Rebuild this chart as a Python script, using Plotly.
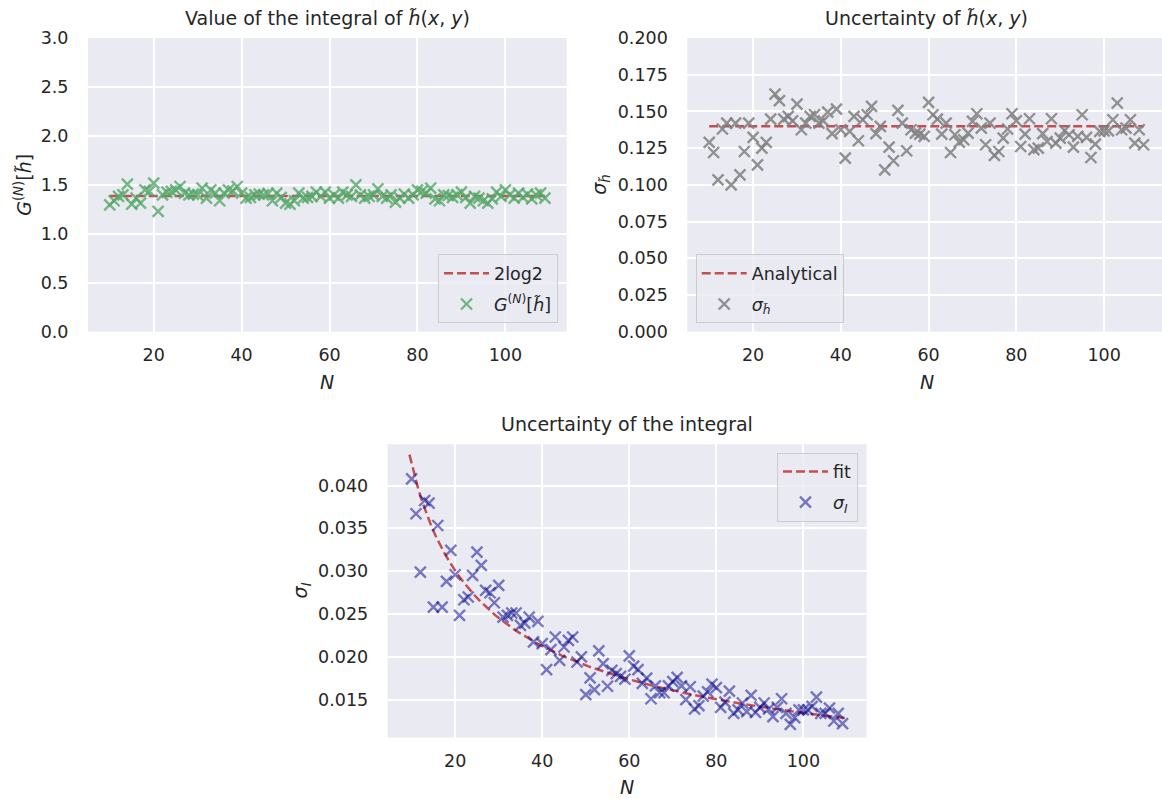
import plotly.graph_objects as go

# ---------------- data ----------------
N = list(range(10, 110))

G_values = [1.296, 1.337, 1.381, 1.398, 1.507, 1.303, 1.364, 1.313, 1.449, 1.432,
            1.517, 1.228, 1.398, 1.425, 1.432, 1.449, 1.483, 1.415, 1.398, 1.405,
            1.398, 1.466, 1.364, 1.449, 1.415, 1.337, 1.415, 1.449, 1.439, 1.483,
            1.415, 1.364, 1.371, 1.398, 1.405, 1.398, 1.411, 1.337, 1.415, 1.371,
            1.313, 1.303, 1.337, 1.415, 1.364, 1.371, 1.381, 1.425, 1.381, 1.425,
            1.364, 1.398, 1.364, 1.425, 1.398, 1.381, 1.500, 1.398, 1.364, 1.381,
            1.398, 1.459, 1.381, 1.364, 1.398, 1.323, 1.364, 1.405, 1.364, 1.398,
            1.449, 1.432, 1.415, 1.466, 1.357, 1.337, 1.398, 1.391, 1.371, 1.398,
            1.425, 1.371, 1.313, 1.381, 1.364, 1.337, 1.313, 1.357, 1.425, 1.381,
            1.449, 1.398, 1.364, 1.415, 1.371, 1.405, 1.357, 1.398, 1.415, 1.364]

sigma_h = [0.1289, 0.1220, 0.1034, 0.1380, 0.1420, 0.1000, 0.1420, 0.1068, 0.1227, 0.1420,
           0.1323, 0.1136, 0.1250, 0.1289, 0.1448, 0.1618, 0.1573, 0.1448, 0.1466, 0.1436,
           0.1550, 0.1375, 0.1420, 0.1466, 0.1477, 0.1420, 0.1436, 0.1495, 0.1348, 0.1516,
           0.1375, 0.1182, 0.1364, 0.1466, 0.1300, 0.1443, 0.1477, 0.1534, 0.1348, 0.1398,
           0.1102, 0.1257, 0.1164, 0.1507, 0.1420, 0.1232, 0.1375, 0.1352, 0.1345, 0.1330,
           0.1561, 0.1477, 0.1448, 0.1345, 0.1420, 0.1220, 0.1341, 0.1291, 0.1307, 0.1352,
           0.1432, 0.1484, 0.1386, 0.1273, 0.1420, 0.1200, 0.1227, 0.1318, 0.1380, 0.1484,
           0.1436, 0.1261, 0.1345, 0.1450, 0.1239, 0.1250, 0.1348, 0.1295, 0.1450, 0.1284,
           0.1318, 0.1370, 0.1341, 0.1257, 0.1330, 0.1477, 0.1323, 0.1186, 0.1277, 0.1364,
           0.1368, 0.1368, 0.1443, 0.1557, 0.1375, 0.1386, 0.1443, 0.1284, 0.1375, 0.1273]

sigma_I = [0.04078, 0.03670, 0.02989, 0.03825, 0.03794, 0.02581, 0.03533, 0.02581, 0.02880, 0.03242,
           0.02958, 0.02484, 0.02666, 0.02698, 0.02950, 0.03222, 0.03067, 0.02775, 0.02748, 0.02631,
           0.02834, 0.02464, 0.02484, 0.02511, 0.02511, 0.02367, 0.02394, 0.02464, 0.02173, 0.02414,
           0.02153, 0.01850, 0.02083, 0.02231, 0.01959, 0.02114, 0.02192, 0.02231, 0.01939, 0.01998,
           0.01558, 0.01753, 0.01617, 0.02068, 0.01920, 0.01656, 0.01842, 0.01803, 0.01770, 0.01740,
           0.02010, 0.01890, 0.01850, 0.01690, 0.01750, 0.01510, 0.01660, 0.01580, 0.01580, 0.01660,
           0.01710, 0.01760, 0.01660, 0.01500, 0.01650, 0.01390, 0.01430, 0.01540, 0.01590, 0.01680,
           0.01640, 0.01410, 0.01470, 0.01600, 0.01340, 0.01380, 0.01460, 0.01360, 0.01550, 0.01350,
           0.01410, 0.01460, 0.01390, 0.01300, 0.01410, 0.01510, 0.01340, 0.01210, 0.01290, 0.01380,
           0.01380, 0.01380, 0.01420, 0.01530, 0.01340, 0.01340, 0.01400, 0.01250, 0.01340, 0.01220]

two_log2 = 1.3863          # reference value 2 log 2
analytical_sigma = 0.1398  # analytical uncertainty
fit_amplitude = 0.1344     # fit: sigma_I = a / sqrt(N)
fit_N = [9.5 + k for k in range(101)]
fit_values = [fit_amplitude / (n ** 0.5) for n in fit_N]

# ---------------- style ----------------
W, H = 1162, 799
Y_OFF, Y_SCALE = 9.0, 0.976   # empirical vertical placement of the page in the photo
BG = "#EAEAF2"
TXT = "#262626"
FONT = "DejaVu Sans"
RED = "#C44E52"
TICK_FS = 17.5
LAB_FS = 19


def px_x(p):
    return p / W


def px_y(p):
    return 1 - ((p - Y_OFF) / Y_SCALE) / H


fig = go.Figure()

line_style = dict(color=RED, width=2.5, dash="9px,4px")


def mk(col):
    return dict(symbol="x-thin", size=11, line=dict(width=2.4, color=col))


# top-left
fig.add_trace(go.Scatter(x=N, y=[two_log2] * len(N), mode="lines", line=line_style,
                         name="2log2", xaxis="x", yaxis="y", legend="legend",
                         legendgroup="a1"))
fig.add_trace(go.Scatter(x=N, y=G_values, mode="markers", marker=mk("rgba(85,168,104,0.8)"),
                         name="<i>G</i><sup>(<i>N</i>)</sup>[<i>h̃</i>]", xaxis="x", yaxis="y",
                         legend="legend", legendgroup="a2"))
# top-right
fig.add_trace(go.Scatter(x=N, y=[analytical_sigma] * len(N), mode="lines", line=line_style,
                         name="Analytical", xaxis="x2", yaxis="y2", legend="legend2",
                         legendgroup="b1"))
fig.add_trace(go.Scatter(x=N, y=sigma_h, mode="markers", marker=mk("rgba(128,128,128,0.85)"),
                         name="<i>σ</i><sub><i>h̃</i></sub>", xaxis="x2", yaxis="y2",
                         legend="legend2", legendgroup="b2"))
# bottom
fig.add_trace(go.Scatter(x=fit_N, y=fit_values, mode="lines", line=line_style,
                         name="fit", xaxis="x3", yaxis="y3", legend="legend3",
                         legendgroup="c1"))
fig.add_trace(go.Scatter(x=N, y=sigma_I, mode="markers", marker=mk("rgba(0,0,139,0.5)"),
                         name="<i>σ</i><sub><i>I</i></sub>", xaxis="x3", yaxis="y3",
                         legend="legend3", legendgroup="c2"))

axis_common = dict(showline=False, zeroline=False, showgrid=True, gridcolor="white",
                   gridwidth=1.6, ticks="outside", tickcolor="rgba(0,0,0,0)",
                   tickfont=dict(family=FONT, size=TICK_FS, color=TXT))

xticks = [20, 40, 60, 80, 100]
top_dom = [px_y(331), px_y(37)]
bot_dom = [px_y(737.3), px_y(443.7)]
XTL, YTL = 7, 15

fig.update_layout(
    width=W, height=H, margin=dict(l=0, r=0, t=0, b=0),
    paper_bgcolor="white", plot_bgcolor=BG, showlegend=True,
    font=dict(family=FONT, color=TXT),
    xaxis=dict(domain=[px_x(88), px_x(566.7)], range=[5.05, 113.95], tickvals=xticks,
               anchor="y", ticklen=XTL, **axis_common),
    yaxis=dict(domain=top_dom, range=[0, 3.0], tickvals=[0, 0.5, 1.0, 1.5, 2.0, 2.5, 3.0],
               ticktext=["0.0", "0.5", "1.0", "1.5", "2.0", "2.5", "3.0"],
               anchor="x", ticklen=YTL, **axis_common),
    xaxis2=dict(domain=[px_x(687.3), 1.0], range=[5.0, 113.2], tickvals=xticks,
                anchor="y2", ticklen=XTL, **axis_common),
    yaxis2=dict(domain=top_dom, range=[0, 0.2],
                tickvals=[0, 0.025, 0.05, 0.075, 0.1, 0.125, 0.15, 0.175, 0.2],
                ticktext=["0.000", "0.025", "0.050", "0.075", "0.100", "0.125", "0.150",
                          "0.175", "0.200"],
                anchor="x2", ticklen=YTL, **axis_common),
    xaxis3=dict(domain=[px_x(387.7), px_x(866.5)], range=[4.5, 114.5], tickvals=xticks,
                anchor="y3", ticklen=XTL, **axis_common),
    yaxis3=dict(domain=bot_dom, range=[0.01057, 0.04482],
                tickvals=[0.015, 0.020, 0.025, 0.030, 0.035, 0.040],
                ticktext=["0.015", "0.020", "0.025", "0.030", "0.035", "0.040"],
                anchor="x3", ticklen=YTL, **axis_common),
)

leg_common = dict(bgcolor="rgba(234,234,242,0.8)", bordercolor="#CCCCCC", borderwidth=1,
                  tracegroupgap=5, itemwidth=45,
                  font=dict(family=FONT, size=TICK_FS, color=TXT))
fig.update_layout(
    legend=dict(x=px_x(558), y=px_y(322.7), xanchor="right", yanchor="bottom", **leg_common),
    legend2=dict(x=px_x(695.7), y=px_y(322.7), xanchor="left", yanchor="bottom", **leg_common),
    legend3=dict(x=px_x(858), y=px_y(452), xanchor="right", yanchor="top", **leg_common),
)

titles = [
    ("Value of the integral of <i>h̃</i>(<i>x</i>, <i>y</i>)", px_x((88 + 566.7) / 2), px_y(37)),
    ("Uncertainty of <i>h̃</i>(<i>x</i>, <i>y</i>)", px_x((687.3 + 1165.9) / 2), px_y(37)),
    ("Uncertainty of the integral", px_x((387.7 + 866.5) / 2), px_y(443.7)),
]
for text, x, y in titles:
    fig.add_annotation(text=text, x=x, y=y, xref="paper", yref="paper", xanchor="center",
                       yanchor="bottom", yshift=7, showarrow=False,
                       font=dict(family=FONT, size=LAB_FS, color=TXT))

xlabels = [(px_x((88 + 566.7) / 2), px_y(381)), (px_x((687.3 + 1165.9) / 2), px_y(381)),
           (px_x((387.7 + 866.5) / 2), px_y(787))]
for x, y in xlabels:
    fig.add_annotation(text="<i>N</i>", x=x, y=y, xref="paper", yref="paper",
                       xanchor="center", yanchor="middle", showarrow=False,
                       font=dict(family=FONT, size=LAB_FS, color=TXT))

ylabels = [
    ("<i>G</i><sup>(<i>N</i>)</sup>[<i>h̃</i>]", px_x(23), px_y(184)),
    ("<i>σ</i><sub><i>h̃</i></sub>", px_x(601), px_y(184)),
    ("<i>σ</i><sub><i>I</i></sub>", px_x(301), px_y(590)),
]
for text, x, y in ylabels:
    fig.add_annotation(text=text, x=x, y=y, xref="paper", yref="paper", xanchor="center",
                       yanchor="middle", textangle=-90, showarrow=False,
                       font=dict(family=FONT, size=LAB_FS, color=TXT))

fig.write_html("out.html")
